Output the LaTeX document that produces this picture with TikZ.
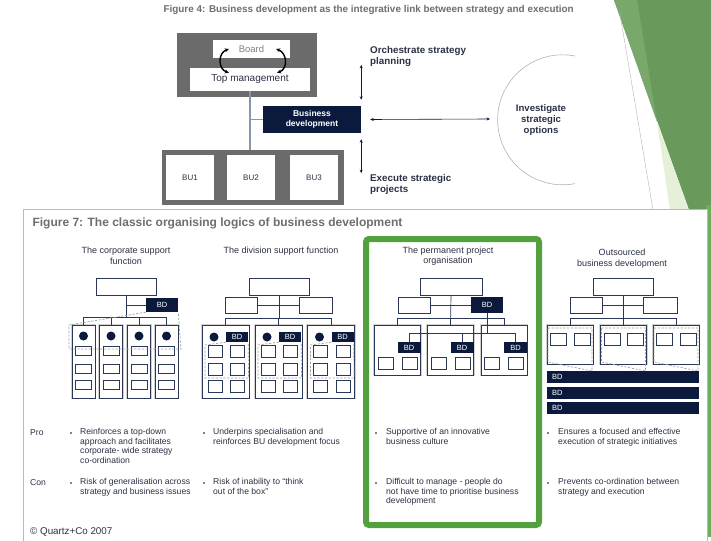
\documentclass[tikz,border=0pt]{standalone}
\usepackage{fontspec}
\setmainfont{Liberation Sans}
\usepackage{tikz}
\usetikzlibrary{arrows.meta,positioning,calc}

\definecolor{navy}{HTML}{0B1A3C}
\definecolor{linec}{HTML}{2A3858}
\definecolor{frame}{HTML}{6B6B6B}
\definecolor{titlegray}{HTML}{6E6E6E}
\definecolor{textc}{HTML}{2B3044}
\definecolor{linkc}{HTML}{8A96AA}
\definecolor{leaf}{HTML}{6A9A5B}
\definecolor{leaftop}{HTML}{78A86A}
\definecolor{leaflight}{HTML}{E6F0D8}
\definecolor{hilite}{HTML}{52A13E}

\tikzset{
  orgbox/.style={draw=linec, fill=white, line width=0.8pt, inner sep=0pt},
  colbox/.style={draw=linec, fill=white, line width=0.8pt, inner sep=0pt,
    preaction={draw=gray!35, line width=2.6pt}},
  bdbox/.style={fill=navy, text=white, inner sep=0pt, font=\fontsize{7.5}{8}\selectfont},
  org/.style={linec, line width=0.7pt},
  zone/.style={gray!75, line width=0.7pt, dash pattern=on 2.2pt off 1.6pt},
  dot/.style={circle, fill=navy, minimum size=9pt, inner sep=0pt},
  note/.style={anchor=north west, align=left, text=textc, inner sep=0pt,
    font=\fontsize{8.6}{9.4}\selectfont},
  bullet/.style={fill=textc!60, minimum size=1.8pt, inner sep=0pt},
  head/.style={align=center, text=textc, inner sep=0pt, font=\fontsize{9}{10.5}\selectfont},
  twoway/.style={{Stealth[length=3.5pt,width=3pt]}-{Stealth[length=3.5pt,width=3pt]}, navy, line width=0.6pt},
  swap/.style={{Stealth[length=4pt,width=4pt]}-{Stealth[length=4pt,width=4pt]}, black, line width=1.4pt},
}

\begin{document}
\begin{tikzpicture}[x=1pt, y=-1pt]
  \useasboundingbox (0,0) rectangle (711,540);
  \clip (0,0) rectangle (711,540);

  % slide decoration
  \fill[leaf] (614,0) -- (711,0) -- (711,210) -- (689,210) -- cycle;
  \fill[leaftop] (614,0) -- (637,0) -- (657,122) -- cycle;
  \fill[leaflight] (657,122) -- (689,210) -- (670,210) -- cycle;
  \draw[gray!60, line width=0.4pt] (620,14) -- (653,210);
  \fill[hilite!85] (706,205) rectangle (711,537);

  % Figure 4
  \node[anchor=west, text=titlegray, font=\fontsize{9.9}{11}\bfseries] (fig4) at (160,10)
    {Figure 4: Business development as the integrative link between strategy and execution};
  \node[fill=frame, minimum width=140, minimum height=64, inner sep=0pt] (mgmt) at (247,65) {};
  \node[fill=white, minimum width=77, minimum height=18, inner sep=0pt, text=gray,
    font=\fontsize{9.5}{10}\selectfont] (board) at (251.5,49) {Board};
  \node[fill=white, minimum width=120, minimum height=23, inner sep=0pt, text=textc,
    font=\fontsize{10}{11}\selectfont] (topm) at (250,79.5) {Top management};
  \draw[swap] ([xshift=16pt]board.west) .. controls +(-11,4) and +(-11,-4) .. ([xshift=39pt,yshift=-5pt]topm.north west);
  \draw[swap] ([xshift=-14pt]board.east) .. controls +(11,4) and +(11,-4) .. ([xshift=-33pt,yshift=-5pt]topm.north east);

  \node[fill=frame, minimum width=182, minimum height=55, inner sep=0pt] (bu) at (253,177.5) {};
  \foreach \i/\x in {1/190,2/251,3/314}
    \node[fill=white, minimum width=48, minimum height=45, inner sep=0pt, text=textc,
      font=\fontsize{8}{9}\selectfont] (bu\i) at (\x,177.5) {BU\i};

  \node[fill=navy, text=white, align=center, minimum width=98, minimum height=27, inner sep=0pt,
    font=\fontsize{8.5}{10.5}\bfseries] (bizdev) at (312,119.5) {Business\\development};
  \draw[linkc, line width=1.2pt] (topm.south) -- (topm.south |- bu.north);
  \draw[linkc, line width=1.2pt] (topm.south |- bizdev.west) -- (bizdev.west);

  \node[note, text=textc, font=\fontsize{9.8}{11}\bfseries] (plan) at (370,46)
    {Orchestrate strategy\\planning};
  \node[note, text=textc, font=\fontsize{9.8}{11}\bfseries] (exec) at (370,174)
    {Execute strategic\\projects};
  \node[align=center, text=textc, inner sep=0pt, font=\fontsize{9.6}{11}\bfseries] (options) at (541,120)
    {Investigate\\strategic\\options};
  \draw[gray!60, line width=0.6pt] (575,56) arc[start angle=-79, end angle=-281, radius=65];
  \coordinate (optedge) at (498,119);

  \draw[twoway] ([yshift=41pt]bizdev.north east) -- ([yshift=6pt]bizdev.north east);
  \draw[twoway] ([yshift=-6pt]bizdev.south east) -- ([yshift=-40pt]bizdev.south east);
  \draw[twoway] ([xshift=9pt]bizdev.east) -- ([xshift=-8pt]optedge);

  % Figure 7
  \draw[gray!55, fill=white, line width=0.8pt] (23,209) rectangle (707,560);
  \node[anchor=west, text=titlegray, font=\fontsize{12}{13}\bfseries] (fig7) at (29,223)
    {Figure 7: The classic organising logics of business development};

  % corporate support function
  \node[head] (h1) at (126,256) {The corporate support\\function};
  \node[orgbox, minimum width=60, minimum height=17] (ca) at (126,286.5) {};
  \node[bdbox, minimum width=32, minimum height=14] (cbd) at (162,305) {BD};
  \coordinate (cbus) at (126,317);
  \foreach \i/\x in {1/83.5,2/111,3/139,4/166.5} {
    \node[colbox, minimum width=23, minimum height=73] (c\i) at (\x,361.5) {};
    \node[dot] (cd\i) at (\x,336) {};
    \foreach \j/\y in {1/351,2/368.5,3/385}
      \node[orgbox, minimum width=16, minimum height=9] (c\i-\j) at (\x,\y) {};
    \draw[org] (c\i.north |- cbus) -- (c\i.north);
  }
  \draw[org] (ca.south) -- (cbus);
  \draw[org] (ca.south |- cbd.west) -- (cbd.west);
  \draw[org] (c1.north |- cbus) -- (c4.north |- cbus);
  \draw[zone] (cbd.south west) -- (69,325) -- (69,349) -- (181,349) -- (cbd.south east);

  % division support function
  \node[head] (h2) at (281,251) {The division support function};
  \node[orgbox, minimum width=60, minimum height=17] (da) at (279,286.5) {};
  \node[orgbox, minimum width=32, minimum height=16] (dl) at (241.5,305) {};
  \node[orgbox, minimum width=33, minimum height=16] (dr) at (315.5,305) {};
  \coordinate (dbus) at (279,318);
  \draw[org] (dl.east) -- (dr.west);
  \draw[org] (da.south) -- (dbus);
  \foreach \i/\x in {1/225.5,2/278.5,3/331} {
    \node[colbox, minimum width=47, minimum height=73] (d\i) at (\x,361.5) {};
    \node[dot] (dd\i) at (\x-11.5,337) {};
    \node[bdbox, minimum width=22, minimum height=10] (db\i) at (\x+11.5,337) {BD};
    \foreach \j/\y in {1/351.5,2/369.5,3/386.5} {
      \node[orgbox, minimum width=14, minimum height=12] (d\i l\j) at (\x-10.5,\y) {};
      \node[orgbox, minimum width=14, minimum height=12] (d\i r\j) at (\x+12,\y) {};
    }
    \draw[zone] (db\i.south west) -- (\x-20.5,345) -- (\x-20.5,378) -- (\x+23,378) -- (db\i.south east);
    \draw[org] (d\i.north |- dbus) -- (d\i.north);
  }
  \draw[org] (d1.north |- dbus) -- (d3.north |- dbus);

  % permanent project organisation
  \node[head] (h3) at (448,256) {The permanent project\\organisation};
  \node[orgbox, minimum width=62, minimum height=17] (pa) at (451,286.5) {};
  \node[orgbox, minimum width=32, minimum height=16] (pl) at (414,305) {};
  \node[bdbox, minimum width=32, minimum height=16] (pbd) at (487,305) {BD};
  \coordinate (pbus) at (451,318);
  \coordinate (plink) at (487,333);
  \draw[org] (pl.east) -- (pbd.west);
  \foreach \i/\x in {1/397.5,2/450.5,3/504} {
    \node[colbox, minimum width=46, minimum height=50] (p\i) at (\x,350) {};
    \node[bdbox, minimum width=23, minimum height=11] (pb\i) at (\x+11.5,347.5) {BD};
    \node[orgbox, minimum width=15, minimum height=12] (p\i l) at (\x-12,363) {};
    \node[orgbox, minimum width=15, minimum height=12] (p\i r) at (\x+12,363) {};
    \draw[org] (p\i.north |- pbus) -- (p\i.north);
    \draw[org] (pb\i.north |- plink) -- (pb\i.north);
  }
  \draw[org] (pa.south) -- (p2.north);
  \draw[org] (p1.north |- pbus) -- (p3.north |- pbus);
  \draw[org] (pbd.south) -- (plink);
  \draw[org] (pb1.north |- plink) -- (pb3.north |- plink);

  % outsourced business development
  \node[head] (h4) at (622,258.5) {Outsourced\\business development};
  \node[orgbox, minimum width=60, minimum height=17] (oa) at (623,286.5) {};
  \node[orgbox, minimum width=32, minimum height=16] (ol) at (586.5,305) {};
  \node[orgbox, minimum width=34, minimum height=16] (oright) at (660,305) {};
  \coordinate (obus) at (623,318);
  \draw[org] (ol.east) -- (oright.west);
  \draw[org] (oa.south) -- (obus);
  \foreach \i/\x in {1/570,2/623.5,3/676} {
    \node[colbox, minimum width=46, minimum height=39] (o\i) at (\x,344.5) {};
    \node[orgbox, minimum width=16, minimum height=12] (o\i l) at (\x-11.5,339) {};
    \node[orgbox, minimum width=16, minimum height=12] (o\i r) at (\x+12,339) {};
    \draw[zone] (\x-22,328) -- (\x+22,328) -- (\x+22,371) -- (\x-22,362) -- cycle;
    \draw[org] (o\i.north |- obus) -- (o\i.north);
  }
  \draw[org] (o1.north |- obus) -- (o3.north |- obus);
  \foreach \k/\y in {1/377,2/392.5,3/408}
    \node[bdbox, minimum width=152, minimum height=12, text width=142, align=left] (obd\k) at (623,\y) {BD};

  % highlight
  \draw[hilite, line width=6pt, rounded corners=3pt] (366,239) rectangle (539,525);

  % pros and cons
  \node[anchor=west, text=textc, inner sep=0pt, font=\fontsize{8.6}{9}\selectfont] (pro) at (30,433) {Pro};
  \node[anchor=west, text=textc, inner sep=0pt, font=\fontsize{8.6}{9}\selectfont] (con) at (30,483) {Con};
  \foreach \x in {71,204,376,548} {
    \node[bullet] (bp\x) at (\x,433) {};
    \node[bullet] (bc\x) at (\x,483) {};
  }
  \node[note] (pro1) at (80,428.5) {Reinforces a top-down\\approach and facilitates\\corporate- wide strategy\\co-ordination};
  \node[note] (con1) at (80,478.5) {Risk of generalisation across\\strategy and business issues};
  \node[note] (pro2) at (213,428.5) {Underpins specialisation and\\reinforces BU development focus};
  \node[note] (con2) at (213,478.5) {Risk of inability to ``think\\out of the box''};
  \node[note] (pro3) at (386,428.5) {Supportive of an innovative\\business culture};
  \node[note] (con3) at (386,478.5) {Difficult to manage - people do\\not have time to prioritise business\\development};
  \node[note] (pro4) at (558,428.5) {Ensures a focused and effective\\execution of strategic initiatives};
  \node[note] (con4) at (558,478.5) {Prevents co-ordination between\\strategy and execution};

  \node[anchor=west, text=textc, inner sep=0pt, font=\fontsize{9.8}{11}\selectfont] (copy) at (30,532) {© Quartz+Co 2007};
\end{tikzpicture}
\end{document}
